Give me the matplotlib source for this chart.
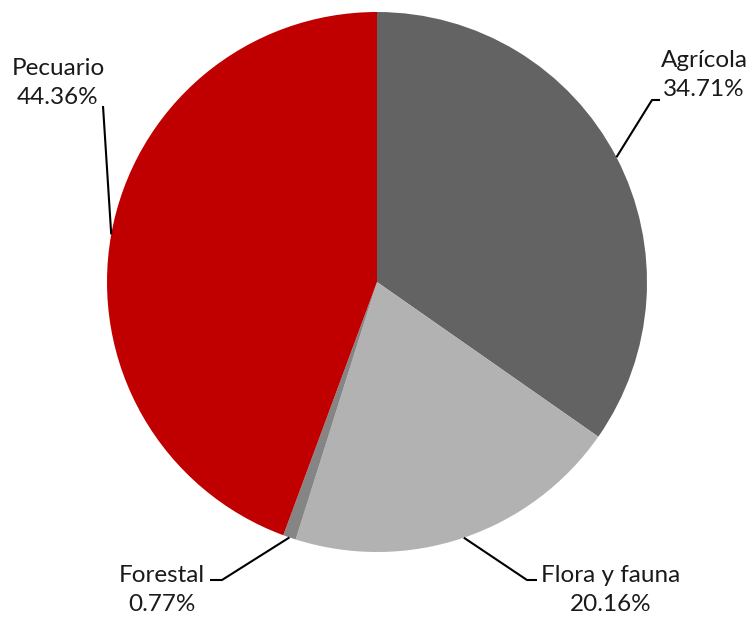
import numpy as np
import matplotlib
matplotlib.use("Agg")
import matplotlib.pyplot as plt

# --- data ---
labels = ["Agrícola", "Flora y fauna", "Forestal", "Pecuario"]
values = [34.71, 20.16, 0.77, 44.36]
colors = ["#636363", "#b2b2b2", "#858585", "#c00000"]

W, H = 749, 617
cx, cy, R = 377, H - 282, 270   # pie centre / radius in pixel units

# label text centre, elbow point, line end (pixel coords, y down)
lab_pos = {"Agrícola": (704, 75), "Flora y fauna": (611, 590),
           "Forestal": (162, 590), "Pecuario": (58, 83)}
elbow = {"Agrícola": [(652, 100), (660, 100)],
         "Flora y fauna": [(527, 580), (537, 580)],
         "Forestal": [(222, 580), (210, 580)],
         "Pecuario": [(103, 106)]}

plt.rcParams['font.family'] = ['Lato', 'DejaVu Sans']
fig = plt.figure(figsize=(W / 100, H / 100), dpi=100)
ax = fig.add_axes([0, 0, 1, 1])

wedges, _ = ax.pie(values, colors=colors, startangle=90, counterclock=False,
                   center=(cx, cy), radius=R, frame=True)
ax.set_xlim(0, W); ax.set_ylim(0, H); ax.set_aspect('equal'); ax.axis('off')

for w, lab, v in zip(wedges, labels, values):
    mid = np.deg2rad((w.theta1 + w.theta2) / 2)
    pts = [(cx + R * np.cos(mid), cy + R * np.sin(mid))]
    pts += [(x, H - y) for x, y in elbow[lab]]
    xs, ys = zip(*pts)
    ax.plot(xs, ys, color='black', lw=1.5, solid_capstyle='butt')
    tx, ty = lab_pos[lab]
    ax.text(tx, H - ty, f"{lab}\n{v:.2f}%", ha='center', va='center',
            fontsize=17.5, linespacing=1.45, color='#1a1a1a')

fig.savefig("out.png", dpi=100)
